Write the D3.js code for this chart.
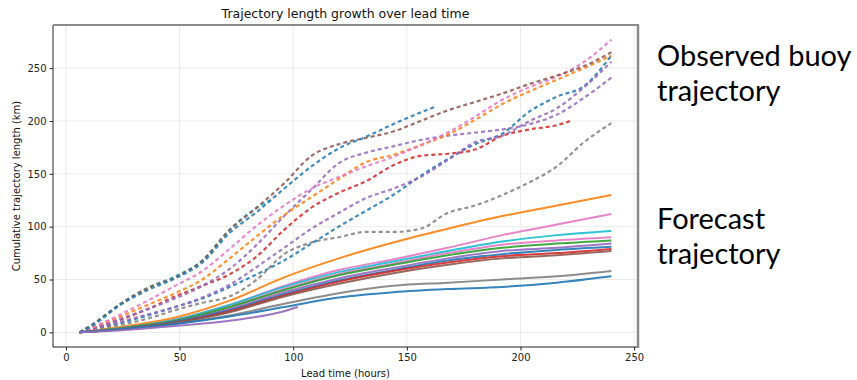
<!DOCTYPE html>
<html><head><meta charset="utf-8">
<script src="https://cdn.jsdelivr.net/npm/d3@7"></script>
<style>body{margin:0;background:#fff}svg{display:block}</style>
</head><body>
<svg id="c" width="857" height="380"></svg>
<script>
// ---- data: [lead hour, cumulative km] ----
const xTicks = [0, 50, 100, 150, 200, 250];
const yTicks = [0, 50, 100, 150, 200, 250];

// Observed buoy trajectories (dashed)
const obsBrown   = [[6,0],[12,8],[24,27],[36,42],[48,52],[60,68],[72,97],[84,118],[96,141],[108,167],[120,178],[132,184],[144,190],[156,200],[168,210],[180,218],[192,226],[204,235],[216,243],[228,252],[240,265]];
const obsBlueA   = [[6,0],[12,7],[24,26],[36,40],[48,51],[60,66],[72,94],[84,114],[96,136],[108,157],[120,174],[132,185],[144,197],[156,208],[162,213]];
const obsCyan    = [[6,0],[12,8],[24,27],[36,42],[48,53],[60,68],[72,97],[84,118],[90,125]];
const obsPink    = [[6,0],[12,5],[24,17],[36,30],[48,44],[60,58],[72,79],[84,101],[96,120],[108,136],[120,147],[132,157],[144,166],[156,177],[168,189],[180,204],[192,220],[204,232],[216,242],[228,256],[240,277]];
const obsOrange  = [[6,0],[12,5],[24,15],[36,26],[48,37],[60,50],[72,70],[84,91],[96,111],[108,128],[120,145],[132,161],[144,168],[156,177],[168,187],[180,201],[192,216],[204,228],[216,239],[228,250],[240,262]];
const obsPurpleA = [[6,0],[12,4],[24,13],[36,22],[48,32],[60,44],[72,60],[84,83],[96,110],[108,135],[120,160],[132,170],[144,176],[156,182],[168,186],[180,189],[192,192],[204,197],[216,206],[228,222],[240,241]];
const obsPurpleB = [[6,0],[12,3],[24,10],[36,17],[48,24],[60,33],[72,45],[84,62],[96,80],[108,98],[120,113],[132,127],[144,136],[156,147],[168,163],[180,180],[192,186],[204,200],[216,212],[228,232],[240,256]];
const obsBlueB   = [[6,0],[12,3],[24,9],[36,16],[48,24],[60,32],[72,43],[84,55],[96,68],[108,84],[120,100],[132,115],[144,130],[156,148],[168,164],[180,178],[192,188],[204,209],[216,223],[228,233],[240,262]];
const obsRed     = [[6,0],[12,4],[24,12],[36,22],[48,34],[60,44],[72,55],[84,72],[96,97],[108,118],[120,132],[132,143],[144,158],[156,167],[168,169],[180,173],[192,186],[204,192],[216,196],[222,200]];
const obsGray    = [[6,0],[12,2],[24,7],[36,13],[48,21],[60,28],[72,34],[84,50],[96,74],[108,85],[120,90],[132,95],[144,95],[156,98],[168,113],[180,120],[192,130],[204,142],[216,157],[228,180],[240,198]];

// Forecast trajectories (solid)
const fcOrange  = [[6,0],[24,5],[48,14],[72,30],[96,52],[120,70],[144,85],[168,98],[192,110],[216,120],[240,130]];
const fcPink    = [[6,0],[24,4],[48,12],[72,26],[96,44],[120,59],[144,69],[168,80],[192,92],[216,102],[240,112]];
const fcCyan    = [[6,0],[24,4],[48,12],[72,26],[96,43],[120,57],[144,67],[168,77],[192,86],[216,92],[240,96]];
const fcPinkB   = [[6,0],[24,4],[48,11],[72,24],[96,41],[120,55],[144,65],[168,75],[192,83],[216,87],[240,90]];
const fcGreen   = [[6,0],[24,4],[48,11],[72,24],[96,40],[120,54],[144,64],[168,73],[192,80],[216,84],[240,87]];
const fcPurple  = [[6,0],[24,3],[48,10],[72,22],[96,38],[120,51],[144,61],[168,70],[192,77],[216,80],[240,84]];
const fcBlue    = [[6,0],[24,3],[48,10],[72,21],[96,36],[120,49],[144,59],[168,68],[192,74],[216,78],[240,81]];
const fcRed     = [[6,0],[24,3],[48,9],[72,20],[96,35],[120,48],[144,58],[168,66],[192,72],[216,75],[240,79]];
const fcBrown   = [[6,0],[24,3],[48,9],[72,19],[96,34],[120,46],[144,56],[168,64],[192,70],[216,73],[240,77]];
const fcGray    = [[6,0],[24,3],[48,8],[72,16],[96,27],[120,37],[144,44],[168,47],[192,50],[216,53],[240,58]];
const fcBlueB   = [[6,0],[24,3],[48,8],[72,15],[96,24],[120,33],[144,38],[168,41],[192,43],[216,47],[240,53]];
const fcPurpleB = [[6,0],[24,2],[48,6],[72,11],[96,20],[102,24]];

const C = {blue:"#1f77b4",orange:"#ff7f0e",green:"#2ca02c",red:"#d62728",purple:"#9467bd",brown:"#8c564b",pink:"#e377c2",gray:"#7f7f7f",cyan:"#17becf"};
const observed = [[obsGray,C.gray],[obsRed,C.red],[obsBlueB,C.blue],[obsPurpleB,C.purple],[obsPurpleA,C.purple],[obsOrange,C.orange],[obsPink,C.pink],[obsCyan,C.cyan],[obsBrown,C.brown],[obsBlueA,C.blue]];
const forecast = [[fcOrange,C.orange],[fcPink,C.pink],[fcCyan,C.cyan],[fcPinkB,C.pink],[fcGreen,C.green],[fcPurple,C.purple],[fcBlue,C.blue],[fcRed,C.red],[fcBrown,C.brown],[fcGray,C.gray],[fcBlueB,C.blue],[fcPurpleB,C.purple]];

const svg = d3.select("#c");
const L = 53, R = 638, T = 25, B = 347;
const x = d3.scaleLinear().domain([-5.7, 251.7]).range([L, R]);
const y = d3.scaleLinear().domain([-13.85, 290.8]).range([B, T]);
const font = "DejaVu Sans, sans-serif";

svg.append("rect").attr("width",857).attr("height",380).attr("fill","#fff");

// grid
const g = svg.append("g");
g.selectAll(".gx").data(xTicks).join("line")
  .attr("x1",d=>x(d)).attr("x2",d=>x(d)).attr("y1",T).attr("y2",B)
  .attr("stroke","#ebebeb").attr("stroke-width",1);
g.selectAll(".gy").data(yTicks).join("line")
  .attr("y1",d=>y(d)).attr("y2",d=>y(d)).attr("x1",L).attr("x2",R)
  .attr("stroke","#ebebeb").attr("stroke-width",1);

const line = d3.line().x(d=>x(d[0])).y(d=>y(d[1])).curve(d3.curveMonotoneX);
svg.append("defs").append("clipPath").attr("id","clip").append("rect")
  .attr("x",L).attr("y",T).attr("width",R-L).attr("height",B-T);
const plot = svg.append("g").attr("clip-path","url(#clip)");

plot.selectAll(".obs").data(observed).join("path")
  .attr("d",d=>line(d[0])).attr("fill","none").attr("stroke",d=>d[1])
  .attr("stroke-width",2.2).attr("stroke-dasharray","4,3").attr("opacity",0.85);
plot.selectAll(".fc").data(forecast).join("path")
  .attr("d",d=>line(d[0])).attr("fill","none").attr("stroke",d=>d[1])
  .attr("stroke-width",2).attr("opacity",0.9);

// axes
const xa = svg.append("g").attr("transform",`translate(0,${B})`)
  .call(d3.axisBottom(x).tickValues(xTicks).tickSize(3.5).tickPadding(3));
const ya = svg.append("g").attr("transform",`translate(${L},0)`)
  .call(d3.axisLeft(y).tickValues(yTicks).tickSize(3.5).tickPadding(3));
[xa,ya].forEach(a=>{
  a.select(".domain").remove();
  a.selectAll("text").attr("font-family",font).attr("font-size",10).attr("fill","#222");
  a.selectAll("line").attr("stroke","#222");
});

// spines
svg.append("line").attr("x1",L).attr("x2",L).attr("y1",T).attr("y2",B).attr("stroke","#222");
svg.append("line").attr("x1",L).attr("x2",R).attr("y1",B).attr("y2",B).attr("stroke","#222");
svg.append("line").attr("x1",L).attr("x2",R+1).attr("y1",T).attr("y2",T).attr("stroke","#8a8a8a").attr("stroke-width",2);
svg.append("line").attr("x1",R).attr("x2",R).attr("y1",T).attr("y2",B+1).attr("stroke","#8a8a8a").attr("stroke-width",2.5);

// labels
svg.append("text").attr("x",(L+R)/2).attr("y",18).attr("text-anchor","middle")
  .attr("font-family",font).attr("font-size",12.5).attr("fill","#111")
  .text("Trajectory length growth over lead time");
svg.append("text").attr("x",(L+R)/2).attr("y",377).attr("text-anchor","middle")
  .attr("font-family",font).attr("font-size",10).attr("fill","#111")
  .text("Lead time (hours)");
svg.append("text").attr("transform",`translate(20,${(T+B)/2}) rotate(-90)`).attr("text-anchor","middle")
  .attr("font-family",font).attr("font-size",10).attr("fill","#111")
  .text("Cumulative trajectory length (km)");

const notes = [["Observed buoy",66],["trajectory",101],["Forecast",229],["trajectory",264]];
svg.selectAll(".note").data(notes).join("text")
  .attr("x",657).attr("y",d=>d[1]).attr("font-family","Lato, 'Open Sans', sans-serif")
  .attr("font-size",29).attr("fill","#000").text(d=>d[0]);
</script>
</body></html>
